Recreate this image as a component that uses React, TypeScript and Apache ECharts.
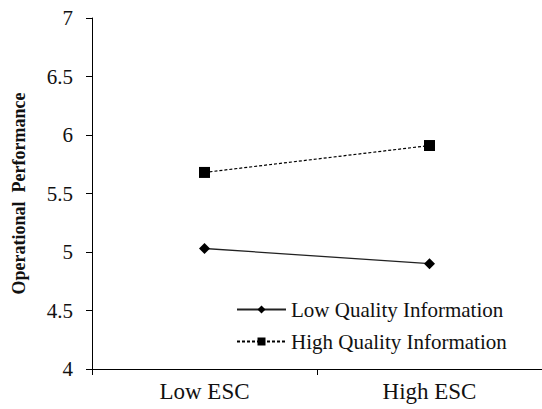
import React, { useEffect, useRef } from "react";
import * as echarts from "echarts";

const categories = ["Low ESC", "High ESC"];
const lowQuality = [5.03, 4.9];
const highQuality = [5.68, 5.91];
const yTicks = [4, 4.5, 5, 5.5, 6, 6.5, 7];

export default function App() {
  const ref = useRef<HTMLDivElement>(null);
  useEffect(() => {
    const chart = echarts.init(ref.current!, null, { renderer: "svg" });
    const font = "Liberation Serif";
    chart.setOption({
      animation: false,
      textStyle: { fontFamily: font },
      grid: { left: 92, top: 18, width: 460, height: 351, containLabel: false },
      legend: {
        left: 231,
        top: 294,
        orient: "vertical",
        itemGap: 11,
        itemWidth: 49,
        itemHeight: 10,
        textStyle: { fontFamily: font, fontSize: 21, color: "#111" },
        data: ["Low Quality Information", "High Quality Information"],
      },
      xAxis: {
        type: "category",
        data: categories,
        boundaryGap: true,
        axisLine: { lineStyle: { color: "#000", width: 1 } },
        axisTick: { show: true, length: 6, inside: false, lineStyle: { color: "#000" } },
        axisLabel: { fontFamily: font, fontSize: 23, color: "#111", margin: 11 },
      },
      yAxis: {
        type: "value",
        min: 4,
        max: 7,
        interval: 0.5,
        name: "Operational  Performance",
        nameLocation: "middle",
        nameGap: 64,
        nameRotate: 90,
        nameTextStyle: { fontFamily: font, fontSize: 18, fontWeight: "bold", color: "#111" },
        splitLine: { show: false },
        axisLine: { show: true, lineStyle: { color: "#000", width: 1 } },
        axisTick: { show: true, length: 6, lineStyle: { color: "#000" } },
        axisLabel: {
          fontFamily: font,
          fontSize: 21,
          color: "#111",
          margin: 19,
          formatter: (v: number) => (yTicks.includes(v) ? String(v) : ""),
        },
      },
      series: [
        {
          name: "Low Quality Information",
          type: "line",
          data: lowQuality,
          symbol: "diamond",
          symbolSize: 11,
          itemStyle: { color: "#000" },
          lineStyle: { color: "#222", width: 1.3, type: "solid" },
        },
        {
          name: "High Quality Information",
          type: "line",
          data: highQuality,
          symbol: "rect",
          symbolSize: 11,
          itemStyle: { color: "#000" },
          lineStyle: { color: "#000", width: 1.2, type: [3, 2] },
        },
      ],
    });
    return () => chart.dispose();
  }, []);
  return <div ref={ref} style={{ width: 542, height: 409, position: "absolute", left: 0, top: 0, background: "#fff" }} />;
}
